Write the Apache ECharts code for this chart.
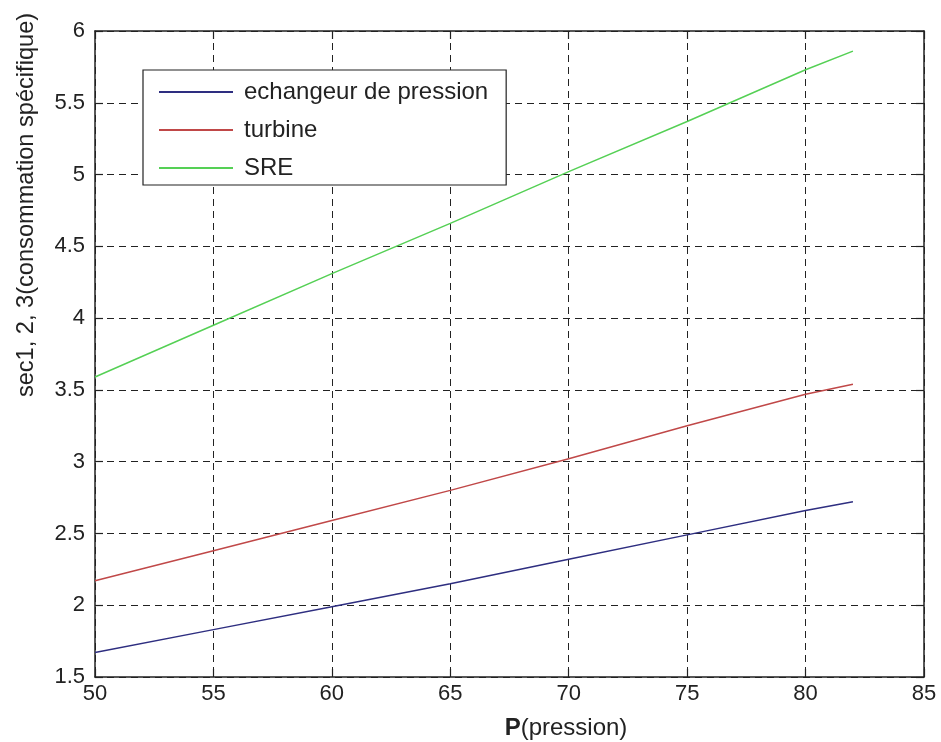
<!DOCTYPE html>
<html>
<head>
<meta charset="utf-8">
<script src="https://cdn.jsdelivr.net/npm/echarts@6/dist/echarts.min.js"></script>
<style>html,body{margin:0;padding:0;background:#fff;}#c{width:941px;height:742px;}</style>
</head>
<body>
<div id="c"></div>
<script>
var pressures = [50, 55, 60, 65, 70, 75, 80, 82];
var echangeur = [1.67, 1.83, 1.99, 2.15, 2.32, 2.49, 2.66, 2.72];
var turbine = [2.17, 2.38, 2.59, 2.80, 3.02, 3.25, 3.47, 3.54];
var sre = [3.59, 3.95, 4.31, 4.66, 5.02, 5.37, 5.73, 5.86];
var seriesNames = ['echangeur de pression', 'turbine', 'SRE'];
var yLabel = 'sec1, 2, 3(consommation spécifique)';
var xLabelBold = 'P';
var xLabelRest = '(pression)';

function pairs(xs, ys) { return xs.map(function (x, i) { return [x, ys[i]]; }); }

var font = '"Liberation Sans", Arial, sans-serif';
var gridLine = { show: true, lineStyle: { color: '#222', width: 1, type: [7, 5] } };
var tick = { show: true, inside: true, length: 8, lineStyle: { color: '#222', width: 1.2 } };
var axLine = { show: true, lineStyle: { color: '#222', width: 1.5 } };

var chart = echarts.init(document.getElementById('c'), null, { renderer: 'canvas' });
chart.setOption({
  backgroundColor: '#fff',
  animation: false,
  grid: { left: 95, top: 31, right: 17, bottom: 65, containLabel: false },
  legend: {
    orient: 'vertical', left: 143, top: 70,
    itemWidth: 74, itemHeight: 14, itemGap: 14,
    padding: [10, 18, 5, 15],
    borderColor: '#222', borderWidth: 1.2, backgroundColor: '#fff',
    itemStyle: { opacity: 0 },
    textStyle: { fontFamily: font, fontSize: 24, color: '#222', padding: [0, 0, 0, 6] },
    data: seriesNames
  },
  xAxis: [{
    type: 'value', min: 50, max: 85, interval: 5, position: 'bottom',
    axisLine: axLine, axisTick: tick, splitLine: gridLine,
    axisLabel: { fontFamily: font, fontSize: 22, color: '#222', margin: 6 }
  }, {
    type: 'value', min: 50, max: 85, interval: 5, position: 'top',
    axisLine: axLine, axisTick: tick, splitLine: { show: false }, axisLabel: { show: false }
  }],
  yAxis: [{
    type: 'value', min: 1.5, max: 6, interval: 0.5, position: 'left',
    axisLine: axLine, axisTick: tick, splitLine: gridLine,
    axisLabel: { fontFamily: font, fontSize: 22, color: '#222', margin: 10 }
  }, {
    type: 'value', min: 1.5, max: 6, interval: 0.5, position: 'right',
    axisLine: axLine, axisTick: tick, splitLine: { show: false }, axisLabel: { show: false }
  }],
  series: [
    { name: seriesNames[0], type: 'line', data: pairs(pressures, echangeur), symbol: 'none', lineStyle: { color: '#2e2e80', width: 1.5 }, itemStyle: { color: '#2e2e80' } },
    { name: seriesNames[1], type: 'line', data: pairs(pressures, turbine), symbol: 'none', lineStyle: { color: '#c04848', width: 1.5 }, itemStyle: { color: '#c04848' } },
    { name: seriesNames[2], type: 'line', data: pairs(pressures, sre), symbol: 'none', lineStyle: { color: '#55d055', width: 1.5 }, itemStyle: { color: '#55d055' } }
  ],
  graphic: [
    { type: 'text', x: 26, y: 205, rotation: Math.PI / 2,
      style: { text: yLabel, fontFamily: font, fontSize: 23.6, fill: '#222', align: 'center', verticalAlign: 'middle' } },
    { type: 'text', x: 566, y: 728,
      style: { text: '{b|' + xLabelBold + '}' + xLabelRest, fontFamily: font, fontSize: 24, fill: '#222', align: 'center', verticalAlign: 'middle',
        rich: { b: { fontFamily: font, fontSize: 24, fontWeight: 'bold', fill: '#222' } } } }
  ]
});
</script>
</body>
</html>
